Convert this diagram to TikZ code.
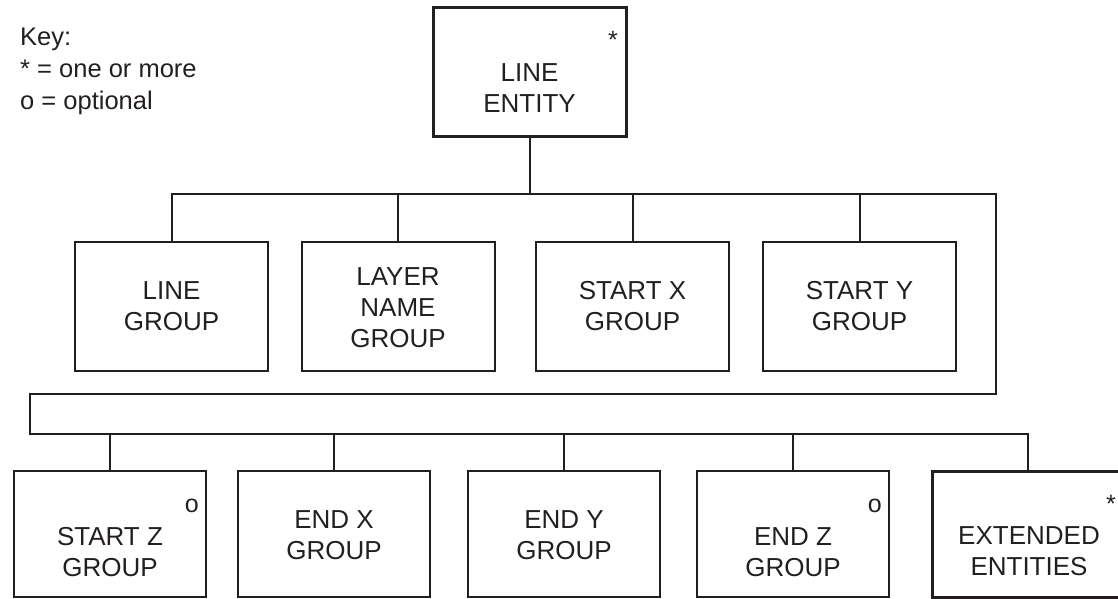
\documentclass[tikz,border=0pt]{standalone}
\usepackage{fontspec}
\setmainfont{Liberation Sans}
\definecolor{ink}{HTML}{231F20}
\begin{document}
\begin{tikzpicture}[x=1pt,y=-1pt,
  every node/.style={text=ink},
  box/.style={draw=ink,line width=2pt,inner sep=0pt,minimum width=193pt,minimum height=129pt},
  boxlow/.style={draw=ink,line width=2pt,inner sep=0pt,minimum width=192pt,minimum height=126pt},
  thickbox/.style={line width=3pt},
  lbl/.style={inner sep=0pt,align=center,font=\fontsize{26}{31}\selectfont},
  marker/.style={inner sep=0pt,anchor=base east,font=\fontsize{25}{28}\selectfont},
  keytxt/.style={inner sep=0pt,anchor=base west,font=\fontsize{25.5}{30}\selectfont},
  conn/.style={draw=ink,line width=2pt,line join=miter}]
\useasboundingbox (0,0) rectangle (1118,599);
% key
\node[keytxt] (k1) at (20,46) {Key:};
\node[keytxt] (k2) at (20,78) {* = one or more};
\node[keytxt] (k3) at (20,110) {o = optional};
% top
\node[box,thickbox,minimum height=128pt] (top) at (529.5,72) {};
\node[lbl] (topt) at (529.5,88) {LINE\\ENTITY};
\node[marker] (topm) at (618,49) {*};
% row 1
\node[box] (a1) at (171.5,306.5) {};
\node[box] (a2) at (398,306.5) {};
\node[box] (a3) at (632.5,306.5) {};
\node[box] (a4) at (859.5,306.5) {};
\node[lbl] (a1t) at (171.5,306.5) {LINE\\GROUP};
\node[lbl] (a2t) at (398,308) {LAYER\\NAME\\GROUP};
\node[lbl] (a3t) at (632.5,306.5) {START X\\GROUP};
\node[lbl] (a4t) at (859.5,306.5) {START Y\\GROUP};
% row 2
\node[boxlow] (b1) at (110,534) {};
\node[boxlow] (b2) at (334,534) {};
\node[boxlow] (b3) at (564,534) {};
\node[boxlow] (b4) at (793,534) {};
\node[boxlow,thickbox] (b5) at (1028,534) {};
\node[lbl] (b1t) at (110,552) {START Z\\GROUP};
\node[lbl] (b2t) at (334,535) {END X\\GROUP};
\node[lbl] (b3t) at (564,535) {END Y\\GROUP};
\node[lbl] (b4t) at (793,552) {END Z\\GROUP};
\node[lbl] (b5t) at (1029,551) {EXTENDED\\ENTITIES};
\node[marker] (b1m) at (199,512) {o};
\node[marker] (b4m) at (882,512) {o};
\node[marker] (b5m) at (1116,512) {*};
% connectors
\coordinate (busA) at (0,194);
\coordinate (busB) at (0,434);
\coordinate (turnR) at (996,394);
\coordinate (turnL) at (30,434);
\draw[conn] (top.south) -- (top.south |- busA);
\draw[conn] (a1.north) -- (a1.north |- busA) -| (turnR) -| (turnL) -- (b5.north |- busB) -- (b5.north);
\draw[conn] (a2.north) -- (a2.north |- busA);
\draw[conn] (a3.north) -- (a3.north |- busA);
\draw[conn] (a4.north) -- (a4.north |- busA);
\draw[conn] (b1.north) -- (b1.north |- busB);
\draw[conn] (b2.north) -- (b2.north |- busB);
\draw[conn] (b3.north) -- (b3.north |- busB);
\draw[conn] (b4.north) -- (b4.north |- busB);
\end{tikzpicture}
\end{document}
